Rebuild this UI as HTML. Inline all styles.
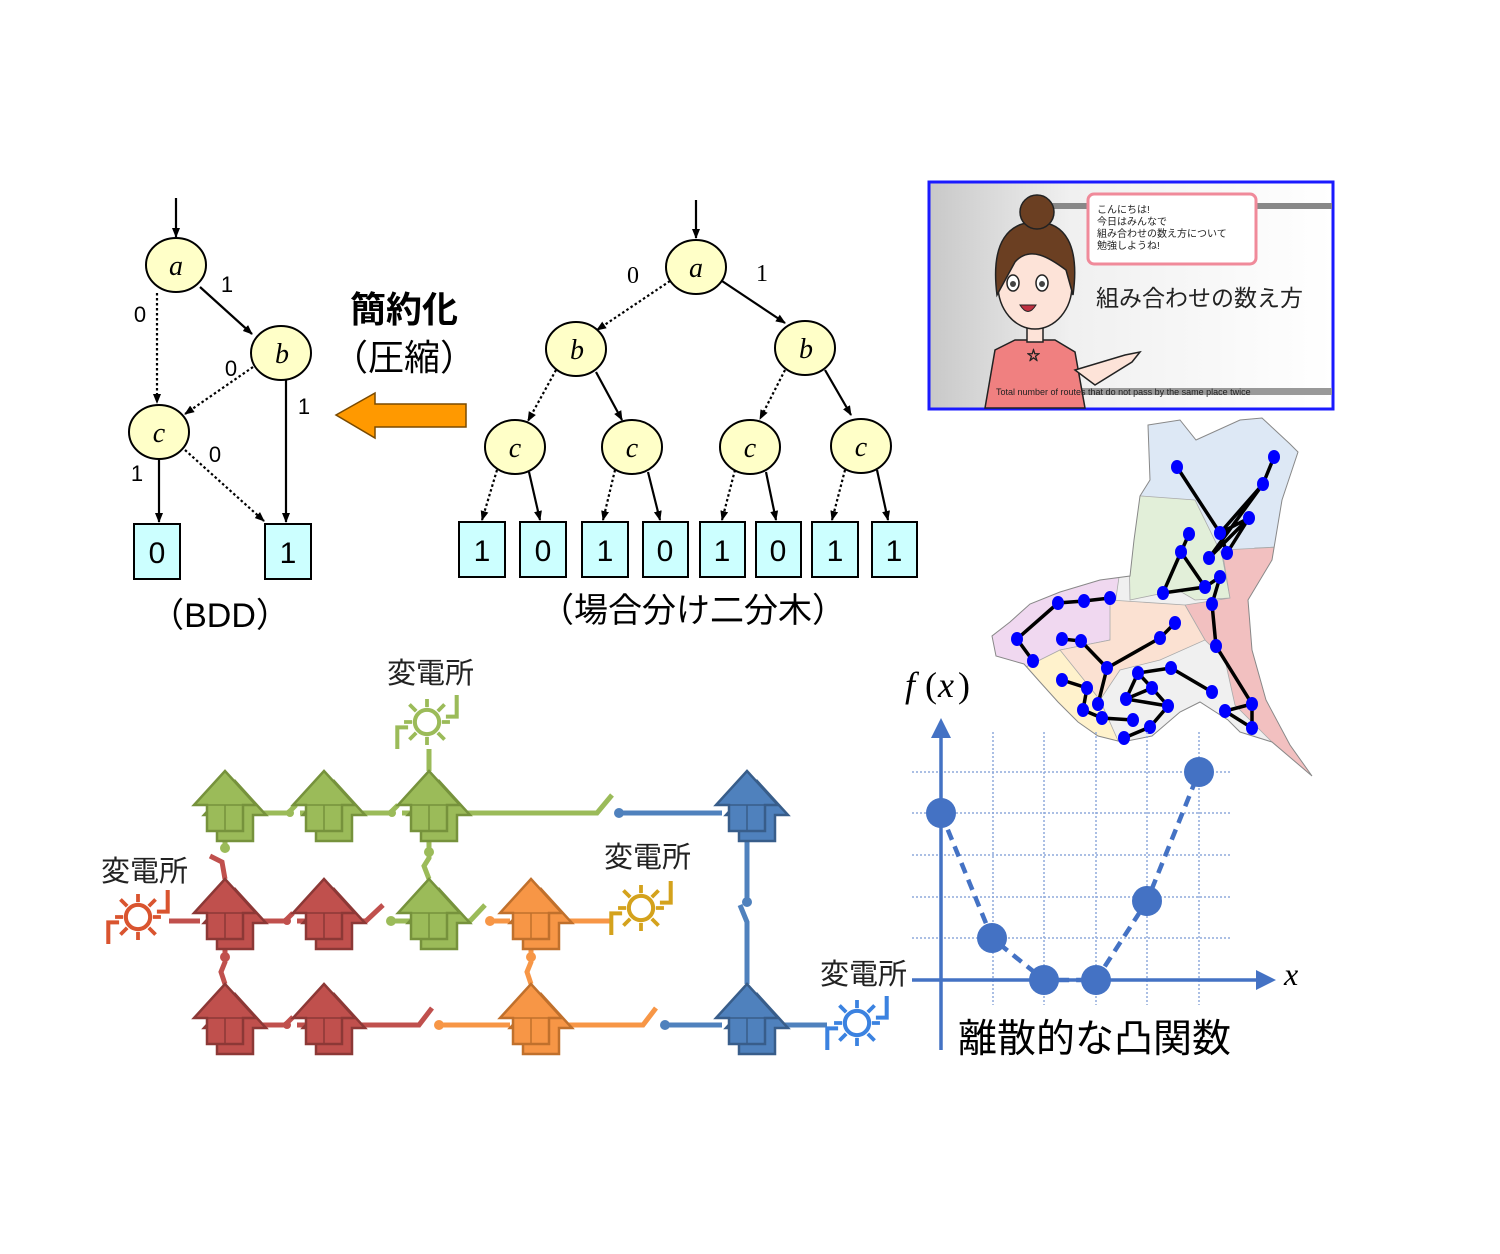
<!DOCTYPE html>
<html><head><meta charset="utf-8">
<style>
html,body{margin:0;padding:0;background:#fff;}
svg{display:block;}
text{font-family:"Liberation Sans","Noto Sans CJK JP",sans-serif;}
.ser{font-family:"Liberation Serif","Noto Serif CJK SC",serif;font-style:italic;}
</style></head>
<body>
<svg width="1500" height="1254" viewBox="0 0 1500 1254" xmlns="http://www.w3.org/2000/svg">
<defs>
<marker id="ah" markerWidth="10" markerHeight="10" refX="9" refY="5" orient="auto" markerUnits="userSpaceOnUse">
<path d="M0,1 L10,5 L0,9 Z" fill="#000"/></marker>
<g id="house"><path d="M10,10 L41,44 L28,44 L28,70 L-8,70 L-8,44 L-21,44 Z"/><path d="M0,0 L31,34 L18,34 L18,60 L-18,60 L-18,34 L-31,34 Z"/><path d="M-18,34 L18,34 M0,34 L0,60" fill="none" stroke-width="1.5"/></g>
<g id="sun"><circle cx="0" cy="0" r="9" fill="none" stroke-width="3"/>
<path d="M0,-11 V-17 M0,11 V17 M-11,0 H-17 M11,0 H17 M-8,-8 L-13,-13 M8,-8 L13,-13 M-8,8 L-13,13 M8,8 L13,13" stroke-width="2.8"/>
<path d="M-22,20 V4 H-14 M14,-4 H22 V-20" fill="none" stroke-width="3"/></g>
<clipPath id="mapclip"><path d="M1148,425 L1180,420 L1196,440 L1240,420 L1262,418 L1290,444 L1298,452 L1282,500 L1272,560 L1248,600 L1252,650 L1266,700 L1290,745 L1312,776 L1272,742 L1240,732 L1228,720 L1200,702 L1180,712 L1152,736 L1122,742 L1098,736 L1078,722 L1058,702 L1040,682 L1024,664 L996,656 L992,636 L1010,622 L1030,604 L1060,592 L1100,580 L1130,576 L1134,540 L1140,496 L1150,480 Z"/></clipPath>
</defs>

<!-- ========== BDD ========== -->
<g stroke="#000" stroke-width="2.2" fill="none">
<line x1="176" y1="198" x2="176" y2="237" marker-end="url(#ah)"/>
<line x1="200" y1="287" x2="252" y2="334" marker-end="url(#ah)"/>
<line x1="157" y1="293" x2="157" y2="403" stroke-dasharray="2.5,2.5" marker-end="url(#ah)"/>
<line x1="253" y1="367" x2="185" y2="414" stroke-dasharray="2.5,2.5" marker-end="url(#ah)"/>
<line x1="286" y1="380" x2="286" y2="522" marker-end="url(#ah)"/>
<line x1="159" y1="459" x2="159" y2="522" marker-end="url(#ah)"/>
<line x1="185" y1="450" x2="264" y2="521" stroke-dasharray="2.5,2.5" marker-end="url(#ah)"/>
</g>
<g fill="#ffffc8" stroke="#000" stroke-width="2">
<ellipse cx="176" cy="265" rx="30" ry="27"/>
<ellipse cx="281" cy="353" rx="30" ry="27"/>
<ellipse cx="159" cy="432" rx="30" ry="27"/>
</g>
<g class="ser" font-size="28" text-anchor="middle">
<text x="176" y="275" class="ser">a</text><text x="282" y="363" class="ser">b</text><text x="159" y="442" class="ser">c</text></g>
<g font-size="22" text-anchor="middle">
<text x="227" y="292">1</text><text x="140" y="322">0</text><text x="231" y="376">0</text>
<text x="304" y="414">1</text><text x="215" y="462">0</text><text x="137" y="481">1</text></g>
<g fill="#ccffff" stroke="#000" stroke-width="2">
<rect x="134" y="524" width="46" height="55"/><rect x="265" y="524" width="46" height="55"/></g>
<g font-size="30" text-anchor="middle"><text x="157" y="563">0</text><text x="288" y="563">1</text></g>
<text x="220" y="627" font-size="34" text-anchor="middle">（BDD）</text>

<!-- middle text and arrow -->
<text x="404" y="322" font-size="36" text-anchor="middle" font-weight="bold">簡約化</text>
<text x="404" y="370" font-size="36" text-anchor="middle">（圧縮）</text>
<path d="M466,404 L375,404 L375,393 L336,415 L375,438 L375,427 L466,427 Z" fill="#ff9900" stroke="#7a4a00" stroke-width="1.5"/>

<!-- ========== Tree ========== -->
<g stroke="#000" stroke-width="2.2" fill="none">
<line x1="696" y1="200" x2="696" y2="238" marker-end="url(#ah)"/>
<line x1="670" y1="281" x2="597" y2="330" stroke-dasharray="2.5,2.5" marker-end="url(#ah)"/>
<line x1="722" y1="281" x2="785" y2="323" marker-end="url(#ah)"/>
<line x1="556" y1="370" x2="528" y2="421" stroke-dasharray="2.5,2.5" marker-end="url(#ah)"/>
<line x1="596" y1="372" x2="622" y2="420" marker-end="url(#ah)"/>
<line x1="785" y1="370" x2="760" y2="419" stroke-dasharray="2.5,2.5" marker-end="url(#ah)"/>
<line x1="825" y1="370" x2="851" y2="415" marker-end="url(#ah)"/>
<line x1="497" y1="470" x2="482" y2="520" stroke-dasharray="2.5,2.5" marker-end="url(#ah)"/>
<line x1="529" y1="472" x2="540" y2="520" marker-end="url(#ah)"/>
<line x1="615" y1="470" x2="603" y2="520" stroke-dasharray="2.5,2.5" marker-end="url(#ah)"/>
<line x1="648" y1="472" x2="660" y2="520" marker-end="url(#ah)"/>
<line x1="735" y1="470" x2="722" y2="520" stroke-dasharray="2.5,2.5" marker-end="url(#ah)"/>
<line x1="766" y1="472" x2="776" y2="520" marker-end="url(#ah)"/>
<line x1="845" y1="470" x2="832" y2="520" stroke-dasharray="2.5,2.5" marker-end="url(#ah)"/>
<line x1="877" y1="470" x2="888" y2="520" marker-end="url(#ah)"/>
</g>
<g fill="#ffffc8" stroke="#000" stroke-width="2">
<ellipse cx="696" cy="267" rx="30" ry="27"/>
<ellipse cx="576" cy="349" rx="30" ry="27"/><ellipse cx="805" cy="348" rx="30" ry="27"/>
<ellipse cx="515" cy="447" rx="30" ry="27"/><ellipse cx="632" cy="447" rx="30" ry="27"/>
<ellipse cx="750" cy="447" rx="30" ry="27"/><ellipse cx="861" cy="446" rx="30" ry="27"/>
</g>
<g font-size="28" text-anchor="middle">
<text x="696" y="277" class="ser">a</text><text x="577" y="359" class="ser">b</text><text x="806" y="358" class="ser">b</text>
<text x="515" y="457" class="ser">c</text><text x="632" y="457" class="ser">c</text><text x="750" y="457" class="ser">c</text><text x="861" y="456" class="ser">c</text></g>
<g font-size="24" text-anchor="middle"><text x="633" y="283" style="font-family:'Liberation Serif',serif">0</text><text x="762" y="281" style="font-family:'Liberation Serif',serif">1</text></g>
<g fill="#ccffff" stroke="#000" stroke-width="2">
<rect x="459" y="522" width="46" height="55"/><rect x="520" y="522" width="46" height="55"/>
<rect x="582" y="522" width="46" height="55"/><rect x="643" y="522" width="45" height="55"/>
<rect x="700" y="522" width="45" height="55"/><rect x="756" y="522" width="45" height="55"/>
<rect x="812" y="522" width="46" height="55"/><rect x="872" y="522" width="45" height="55"/></g>
<g font-size="30" text-anchor="middle">
<text x="482" y="561">1</text><text x="543" y="561">0</text><text x="605" y="561">1</text><text x="665" y="561">0</text>
<text x="722" y="561">1</text><text x="778" y="561">0</text><text x="835" y="561">1</text><text x="894" y="561">1</text></g>
<text x="693" y="622" font-size="34" text-anchor="middle">（場合分け二分木）</text>

<!-- ========== Video panel ========== -->
<defs><linearGradient id="gbg" x1="0" x2="1"><stop offset="0" stop-color="#c8c8c8"/><stop offset="0.35" stop-color="#f0f0f0"/><stop offset="1" stop-color="#fff"/></linearGradient></defs>
<rect x="929" y="182" width="404" height="227" fill="url(#gbg)" stroke="#1a1aff" stroke-width="3"/>
<rect x="1255" y="203" width="77" height="6" fill="#888"/>
<rect x="1030" y="203" width="60" height="6" fill="#888"/>
<rect x="1000" y="388" width="332" height="7" fill="#999"/>
<rect x="1088" y="194" width="168" height="70" rx="6" fill="#fff" stroke="#f08a9a" stroke-width="3"/>
<g font-size="10" fill="#222"><text x="1097" y="213">こんにちは!</text><text x="1097" y="225">今日はみんなで</text><text x="1097" y="237">組み合わせの数え方について</text><text x="1097" y="249">勉強しようね!</text></g>
<text x="1096" y="306" font-size="23" fill="#222">組み合わせの数え方</text>
<path d="M985,408 L995,350 L1015,340 L1055,340 L1075,352 L1085,408 Z" fill="#f08080" stroke="#222" stroke-width="1.5"/>
<path d="M1075,370 L1125,355 L1140,352 L1132,362 L1095,385 Z" fill="#fde3d8" stroke="#222" stroke-width="1.5"/>
<rect x="1027" y="318" width="16" height="24" fill="#fde3d8" stroke="#222" stroke-width="1.5"/>
<ellipse cx="1035" cy="285" rx="37" ry="44" fill="#fde3d8" stroke="#222" stroke-width="1.5"/>
<path d="M997,295 C990,240 1010,222 1036,222 C1065,222 1080,245 1073,295 L1066,270 C1050,258 1030,245 1015,262 Z" fill="#6b3f22" stroke="#222" stroke-width="1.5"/>
<circle cx="1037" cy="212" r="17" fill="#6b3f22" stroke="#222" stroke-width="1.5"/>
<ellipse cx="1013" cy="283" rx="6" ry="8" fill="#fff" stroke="#222" stroke-width="1.5"/>
<ellipse cx="1042" cy="283" rx="6" ry="8" fill="#fff" stroke="#222" stroke-width="1.5"/>
<circle cx="1013" cy="284" r="3" fill="#444"/><circle cx="1042" cy="284" r="3" fill="#444"/>
<path d="M1020,305 Q1028,318 1036,305 Z" fill="#c03040" stroke="#222" stroke-width="1"/>
<text x="1027" y="360" font-size="13" fill="#ff6" stroke="#222" stroke-width="0.8">☆</text>
<text x="996" y="395" font-size="9" fill="#222">Total number of routes that do not pass by the same place twice</text>

<!-- ========== Map ========== -->
<g clip-path="url(#mapclip)" stroke="#aaa" stroke-width="0.8">
<rect x="990" y="410" width="330" height="380" fill="#f0f0f0"/>
<path d="M1140,410 L1320,410 L1320,545 L1255,548 L1220,560 L1190,520 L1140,505 Z" fill="#dde8f5"/>
<path d="M1128,495 L1195,500 L1222,555 L1230,598 L1195,600 L1178,590 L1130,600 Z" fill="#e2efd9"/>
<path d="M1222,550 L1320,545 L1320,790 L1270,740 L1235,705 L1225,660 L1205,640 L1185,605 L1230,598 Z" fill="#f2c0c0"/>
<path d="M990,600 L1120,570 L1110,640 L1060,650 L1020,670 L990,660 Z" fill="#f0d8f0"/>
<path d="M1110,600 L1185,605 L1205,640 L1160,660 L1120,670 L1100,700 L1070,690 L1060,650 L1110,640 Z" fill="#fbe1d2"/>
<path d="M1020,670 L1060,650 L1100,700 L1120,745 L1080,745 L1040,700 Z" fill="#fff2cc"/>
</g>
<path d="M1148,425 L1180,420 L1196,440 L1240,420 L1262,418 L1290,444 L1298,452 L1282,500 L1272,560 L1248,600 L1252,650 L1266,700 L1290,745 L1312,776 L1272,742 L1240,732 L1228,720 L1200,702 L1180,712 L1152,736 L1122,742 L1098,736 L1078,722 L1058,702 L1040,682 L1024,664 L996,656 L992,636 L1010,622 L1030,604 L1060,592 L1100,580 L1130,576 L1134,540 L1140,496 L1150,480 Z" fill="none" stroke="#888" stroke-width="1"/>
<g stroke="#000" stroke-width="3.5" fill="none">
<path d="M1177,467 L1220,533 M1274,457 L1263,484 L1220,533 M1263,484 L1209,558 M1249,518 L1209,558 M1249,518 L1227,553 M1220,533 L1227,553 M1249,518 L1220,533"/>
<path d="M1189,534 L1181,552 L1163,593 L1205,587 L1181,552 M1205,587 L1220,577 L1212,604 L1216,646 L1252,704 L1252,728 L1225,711 L1252,704"/>
<path d="M1017,639 L1058,603 L1084,601 L1110,598 M1017,639 L1033,661 M1062,639 L1081,641 L1107,668 L1160,638 L1175,623 M1107,668 L1098,704"/>
<path d="M1062,680 L1087,688 L1083,710 L1102,718 L1133,720 M1138,673 L1171,668 L1212,692 M1138,673 L1126,699 L1152,688 L1168,706 L1150,727 L1124,738 M1126,699 L1168,706 M1138,673 L1152,688"/>
</g>
<g fill="#0000ff">
<ellipse cx="1177" cy="467" rx="6" ry="7"/><ellipse cx="1274" cy="457" rx="6" ry="7"/><ellipse cx="1263" cy="484" rx="6" ry="7"/>
<ellipse cx="1249" cy="518" rx="6" ry="7"/><ellipse cx="1220" cy="533" rx="6" ry="7"/><ellipse cx="1189" cy="534" rx="6" ry="7"/>
<ellipse cx="1181" cy="552" rx="6" ry="7"/><ellipse cx="1209" cy="558" rx="6" ry="7"/><ellipse cx="1227" cy="553" rx="6" ry="7"/>
<ellipse cx="1220" cy="577" rx="6" ry="7"/><ellipse cx="1205" cy="587" rx="6" ry="7"/><ellipse cx="1163" cy="593" rx="6" ry="7"/>
<ellipse cx="1212" cy="604" rx="6" ry="7"/><ellipse cx="1110" cy="598" rx="6" ry="7"/><ellipse cx="1084" cy="601" rx="6" ry="7"/>
<ellipse cx="1058" cy="603" rx="6" ry="7"/><ellipse cx="1017" cy="639" rx="6" ry="7"/><ellipse cx="1033" cy="661" rx="6" ry="7"/>
<ellipse cx="1062" cy="639" rx="6" ry="7"/><ellipse cx="1081" cy="641" rx="6" ry="7"/><ellipse cx="1175" cy="623" rx="6" ry="7"/>
<ellipse cx="1160" cy="638" rx="6" ry="7"/><ellipse cx="1216" cy="646" rx="6" ry="7"/><ellipse cx="1107" cy="668" rx="6" ry="7"/>
<ellipse cx="1138" cy="673" rx="6" ry="7"/><ellipse cx="1171" cy="668" rx="6" ry="7"/><ellipse cx="1062" cy="680" rx="6" ry="7"/>
<ellipse cx="1087" cy="688" rx="6" ry="7"/><ellipse cx="1152" cy="688" rx="6" ry="7"/><ellipse cx="1212" cy="692" rx="6" ry="7"/>
<ellipse cx="1126" cy="699" rx="6" ry="7"/><ellipse cx="1098" cy="704" rx="6" ry="7"/><ellipse cx="1168" cy="706" rx="6" ry="7"/>
<ellipse cx="1252" cy="704" rx="6" ry="7"/><ellipse cx="1225" cy="711" rx="6" ry="7"/><ellipse cx="1083" cy="710" rx="6" ry="7"/>
<ellipse cx="1102" cy="718" rx="6" ry="7"/><ellipse cx="1133" cy="720" rx="6" ry="7"/><ellipse cx="1150" cy="727" rx="6" ry="7"/>
<ellipse cx="1252" cy="728" rx="6" ry="7"/><ellipse cx="1124" cy="738" rx="6" ry="7"/>
</g>

<!-- ========== Convex function ========== -->
<g stroke="#8faadc" stroke-width="1.5" stroke-dasharray="2,2">
<path d="M993,732 V1005 M1044,732 V1005 M1096,732 V1005 M1147,732 V1005 M1199,732 V1005"/>
<path d="M912,772 H1232 M912,813 H1232 M912,855 H1232 M912,897 H1232 M912,938 H1232"/>
</g>
<g stroke="#4472c4" stroke-width="3.5" fill="none">
<line x1="941" y1="1050" x2="941" y2="735"/><line x1="912" y1="980" x2="1258" y2="980"/>
<path d="M941,813 L992,938 L1044,980 L1096,980 L1147,901 L1199,772" stroke-dasharray="11,7" stroke-width="4.5"/>
</g>
<path d="M931,738 L941,718 L951,738 Z M1256,970 L1276,980 L1256,990 Z" fill="#4472c4"/>
<g fill="#4472c4"><circle cx="941" cy="813" r="15"/><circle cx="992" cy="938" r="15"/><circle cx="1044" cy="980" r="15"/><circle cx="1096" cy="980" r="15"/><circle cx="1147" cy="901" r="15"/><circle cx="1199" cy="772" r="15"/></g>
<text x="905" y="697" font-size="36" style="font-family:'Liberation Serif',serif;font-style:italic">f</text>
<text x="925" y="697" font-size="36" style="font-family:'Liberation Serif',serif">(</text>
<text x="938" y="697" font-size="36" style="font-family:'Liberation Serif',serif;font-style:italic">x</text>
<text x="958" y="697" font-size="36" style="font-family:'Liberation Serif',serif">)</text>
<text x="1284" y="985" font-size="32" style="font-family:'Liberation Serif',serif;font-style:italic">x</text>
<text x="958" y="1052" font-size="39">離散的な凸関数</text>

<!-- ========== Power grid ========== -->
<g font-size="29" fill="#222">
<text x="387" y="683">変電所</text><text x="101" y="881">変電所</text><text x="604" y="867">変電所</text><text x="820" y="984">変電所</text></g>

<g fill="none" stroke-width="5">
<g stroke="#9bbb59">
<path d="M250,813 H288 L296,805 M300,813 H360 M352,813 H390 L398,805 M402,813 H440"/>
<path d="M460,813 H597 L612,795"/>
<path d="M429,749 V771"/>
<path d="M225,841 V852"/><path d="M429,841 V858 L424,866 L429,879"/>
<path d="M391,921 H410 M455,921 H470 L485,905"/>
</g>
<g stroke="#c0504d">
<path d="M169,921 H200 M250,921 H285 L293,913 M297,921 H305 M350,921 H366 L383,905"/>
<path d="M210,856 L222,862 L225,879"/>
<path d="M225,950 V962 L221,972 L225,984"/>
<path d="M250,1025 H285 L293,1017 M297,1025 H305 M350,1025 H419 L432,1008"/>
</g>
<g stroke="#f79646">
<path d="M490,921 H510 M560,921 H610"/>
<path d="M531,950 V962 L527,972 L531,984"/>
<path d="M439,1025 H510 M560,1025 H643 L656,1008"/>
</g>
<g stroke="#4f81bd">
<path d="M619,813 H722"/>
<path d="M747,841 V900 M740,905 L747,922 V984"/>
<path d="M665,1025 H722 M772,1025 H827"/>
</g>
</g>
<g>
<circle cx="619" cy="813" r="5" fill="#4f81bd"/><circle cx="665" cy="1025" r="5" fill="#4f81bd"/><circle cx="747" cy="902" r="5" fill="#4f81bd"/>
<circle cx="391" cy="921" r="5" fill="#9bbb59"/><circle cx="225" cy="848" r="5" fill="#9bbb59"/><circle cx="429" cy="852" r="5" fill="#9bbb59"/>
<circle cx="290" cy="813" r="4" fill="#9bbb59"/><circle cx="392" cy="813" r="4" fill="#9bbb59"/>
<circle cx="490" cy="921" r="5" fill="#f79646"/><circle cx="439" cy="1025" r="5" fill="#f79646"/><circle cx="531" cy="957" r="5" fill="#f79646"/>
<circle cx="287" cy="921" r="4" fill="#c0504d"/><circle cx="287" cy="1025" r="4" fill="#c0504d"/><circle cx="225" cy="957" r="5" fill="#c0504d"/>
</g>

<g fill="#9bbb59" stroke="#76923c" stroke-width="2.5">
<use href="#house" x="225" y="771"/><use href="#house" x="324" y="771"/><use href="#house" x="429" y="771"/><use href="#house" x="429" y="879"/></g>
<g fill="#c0504d" stroke="#8c3836" stroke-width="2.5">
<use href="#house" x="225" y="879"/><use href="#house" x="324" y="879"/><use href="#house" x="225" y="984"/><use href="#house" x="324" y="984"/></g>
<g fill="#f79646" stroke="#c0702c" stroke-width="2.5">
<use href="#house" x="531" y="879"/><use href="#house" x="531" y="984"/></g>
<g fill="#4f81bd" stroke="#385d8a" stroke-width="2.5">
<use href="#house" x="747" y="771"/><use href="#house" x="747" y="984"/></g>

<g stroke="#9bbb59"><use href="#sun" transform="translate(427,722) scale(1.35)"/></g>
<g stroke="#d9542f"><use href="#sun" transform="translate(138,917) scale(1.35)"/></g>
<g stroke="#d4a21c"><use href="#sun" transform="translate(641,908) scale(1.35)"/></g>
<g stroke="#3b82e0"><use href="#sun" transform="translate(857,1023) scale(1.35)"/></g>
</svg>
</body></html>
